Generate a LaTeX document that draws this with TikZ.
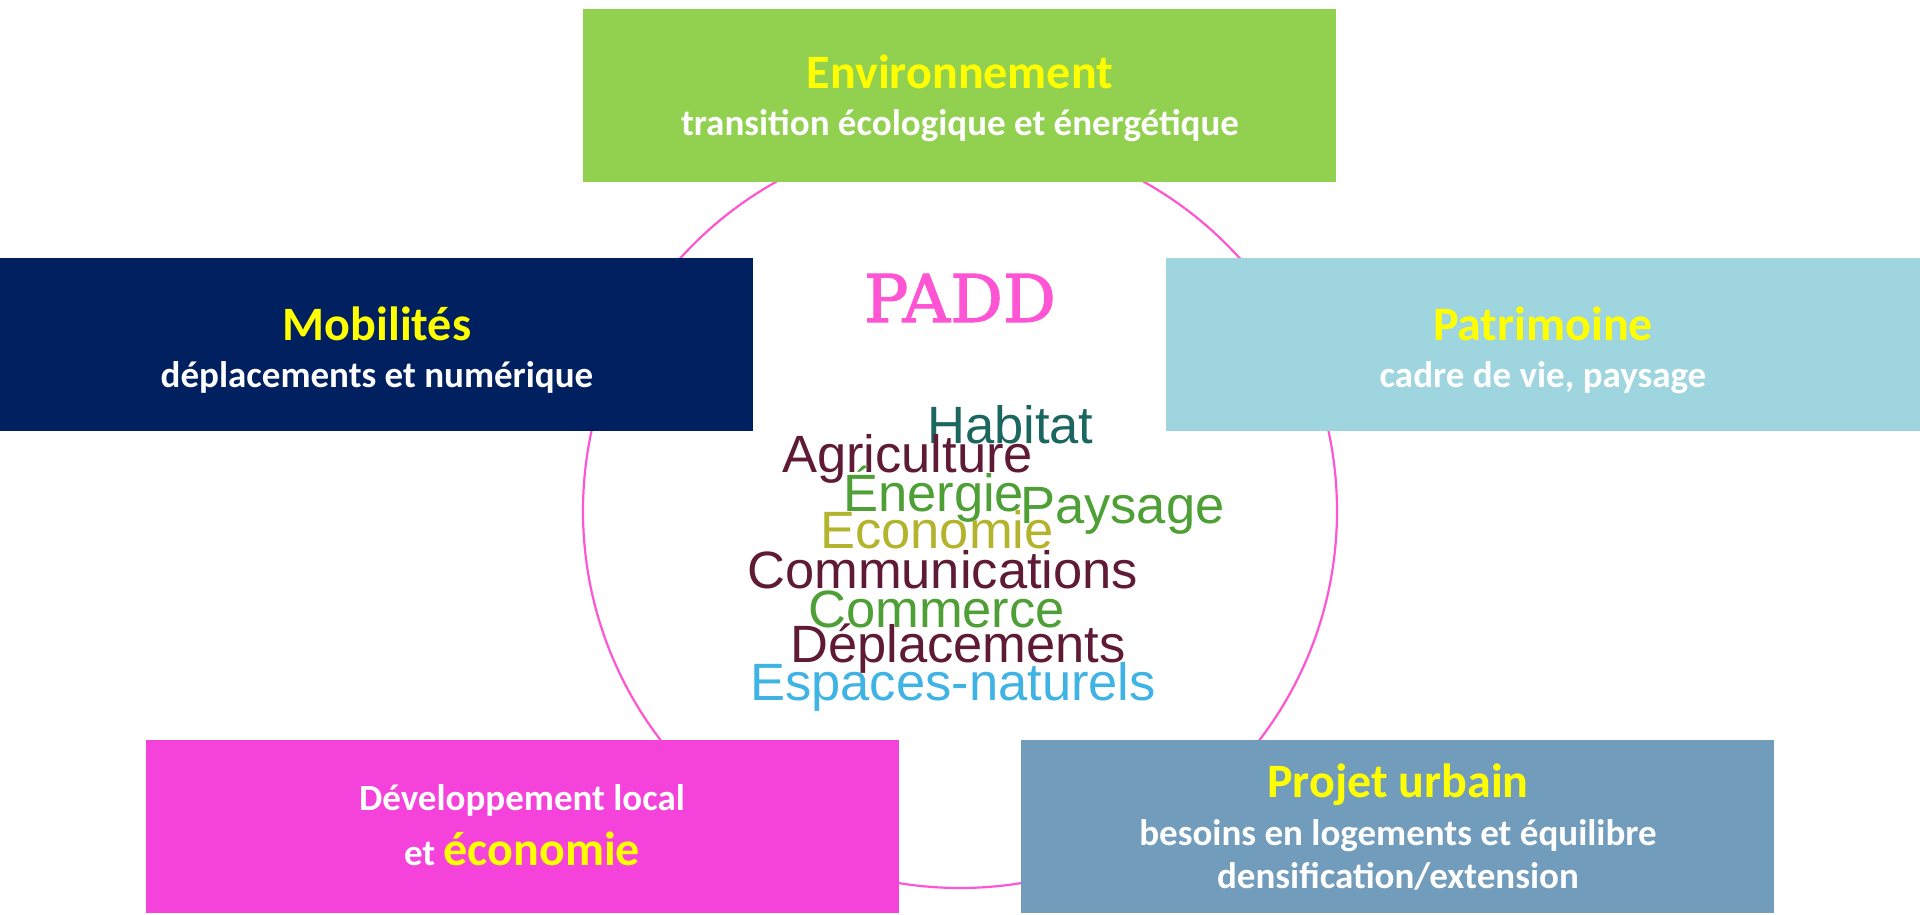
\documentclass[tikz,border=0pt]{standalone}
\usepackage{fontspec}
\newfontfamily\boxfont{Carlito}
\newfontfamily\cloudfont{Liberation Sans}
\newfontfamily\paddfont[FakeBold=1.6]{DejaVu Serif}

\definecolor{envgreen}{HTML}{92D050}
\definecolor{mobnavy}{HTML}{002060}
\definecolor{patblue}{HTML}{9ED5DE}
\definecolor{devpink}{HTML}{F442DA}
\definecolor{projblue}{HTML}{729CBB}
\definecolor{ringpink}{HTML}{FF55D5}
\definecolor{titleyellow}{HTML}{FFFF00}
\definecolor{wteal}{HTML}{1B665F}
\definecolor{wmaroon}{HTML}{5F1B35}
\definecolor{wgreen}{HTML}{4E9F35}
\definecolor{wolive}{HTML}{B4B32E}
\definecolor{wsky}{HTML}{3FB3E3}

\tikzset{
  theme/.style={rectangle, anchor=north west, inner sep=0pt, outer sep=0pt,
    minimum width=753pt, minimum height=173pt, fill=#1},
  headline/.style={anchor=base, inner sep=0pt, text=titleyellow,
    font=\boxfont\bfseries\fontsize{48}{58}\selectfont},
  subline/.style={anchor=base, inner sep=0pt, text=white,
    font=\boxfont\bfseries\fontsize{37}{44}\selectfont},
  word/.style={anchor=base west, inner sep=0pt, text=#1,
    font=\cloudfont\fontsize{52.5}{60}\selectfont},
}

\begin{document}
\begin{tikzpicture}[x=1pt, y=-1pt]
\useasboundingbox (0,0) rectangle (1920,915);

% central ring
\node[circle, draw=ringpink, line width=2.2pt, minimum size=754pt, inner sep=0pt] (ring) at (960,511) {};

% theme boxes
\node[theme=envgreen] (env) at (583,9) {};
\node[theme=mobnavy] (mob) at (0,258) {};
\node[theme=patblue, minimum width=754pt] (pat) at (1166,258) {};
\node[theme=devpink] (dev) at (146,740) {};
\node[theme=projblue] (proj) at (1021,740) {};

% box texts
\node[headline] (envT) at (960,89) {Environnement};
\node[subline] (envS) at (960,136) {transition écologique et énergétique};

\node[headline] (mobT) at (377,340) {Mobilités};
\node[subline] (mobS) at (377,387) {déplacements et numérique};

\node[headline] (patT) at (1543,340) {Patrimoine};
\node[subline] (patS) at (1543,387) {cadre de vie, paysage};

\node[subline] (devA) at (522,810) {Développement local};
\node[subline] (devB) at (522,865) {et {\color{titleyellow}\fontsize{48}{58}\selectfont économie}};

\node[headline] (projT) at (1398,797) {Projet urbain};
\node[subline] (projA) at (1398,845) {besoins en logements et équilibre};
\node[subline] (projB) at (1398,888) {densification/extension};

% title
\node[anchor=base, inner sep=0pt, text=ringpink, font=\paddfont\fontsize{66}{75}\selectfont] (padd) at (960,322) {PADD};

% word cloud
\node[word=wteal] (w1) at (927,443) {Habitat};
\node[word=wmaroon] (w2) at (782,472) {Agriculture};
\node[word=wgreen] (w3) at (843,511) {Énergie};
\node[word=wgreen] (w4) at (1020,523) {Paysage};
\node[word=wolive] (w5) at (820,548) {Economie};
\node[word=wmaroon] (w6) at (747,588) {Communications};
\node[word=wgreen] (w7) at (808,627) {Commerce};
\node[word=wmaroon] (w8) at (790,662) {Déplacements};
\node[word=wsky] (w9) at (750,700) {Espaces-naturels};
\end{tikzpicture}
\end{document}
